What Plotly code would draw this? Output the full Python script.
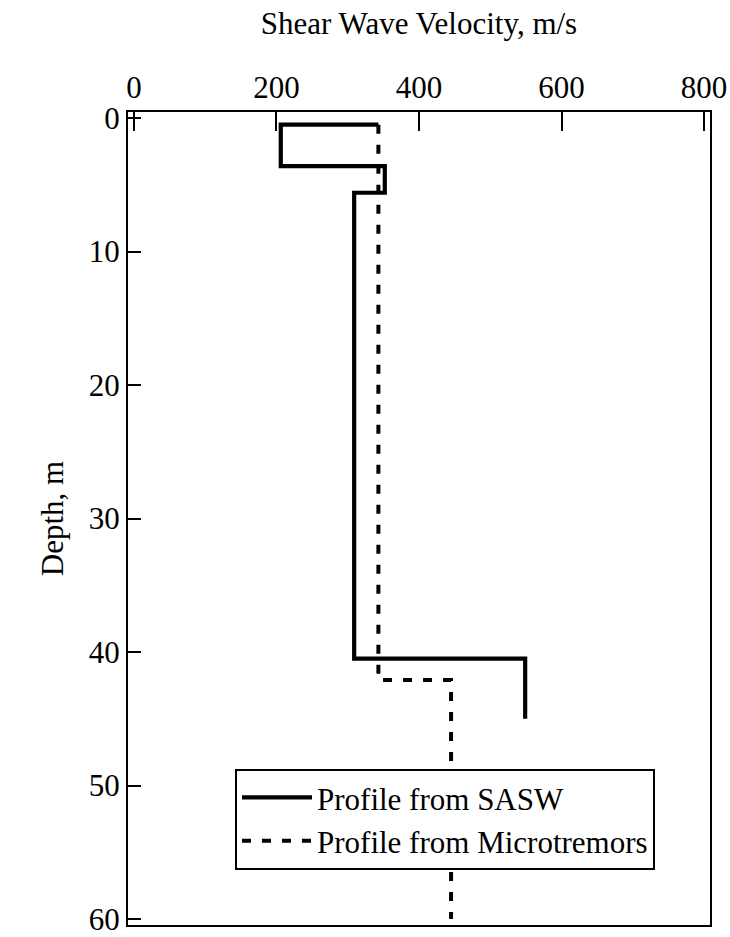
import plotly.graph_objects as go

# SASW profile (step profile: velocity m/s vs depth m)
sasw_velocity = [343, 206, 206, 352, 352, 309, 309, 549, 549]
sasw_depth = [0.5, 0.5, 3.6, 3.6, 5.6, 5.6, 40.5, 40.5, 45.0]

# Microtremor profile
micro_velocity = [343, 343, 445, 445]
micro_depth = [0.5, 42.1, 42.1, 60.0]

x_ticks = [0, 200, 400, 600, 800]
y_ticks = [0, 10, 20, 30, 40, 50, 60]

FONT = "Liberation Serif, Times New Roman, serif"
FS = 31

fig = go.Figure()
fig.add_trace(go.Scatter(
    x=sasw_velocity, y=sasw_depth, mode="lines",
    name="Profile from SASW",
    line=dict(color="black", width=4.2),
))
fig.add_trace(go.Scatter(
    x=micro_velocity, y=micro_depth, mode="lines",
    name="Profile from Microtremors",
    line=dict(color="black", width=4, dash="9px,11px"),
))

fig.update_layout(
    width=730, height=937,
    margin=dict(l=128, r=20, t=112, b=12, autoexpand=False),
    paper_bgcolor="white", plot_bgcolor="white",
    font=dict(family=FONT, size=FS, color="black"),
    showlegend=True,
    legend=dict(
        x=0.9055, xanchor="right", y=0.13, yanchor="middle",
        bgcolor="white", bordercolor="black", borderwidth=2,
        font=dict(family=FONT, size=FS, color="black"),
        tracegroupgap=0, itemwidth=70,
    ),
    xaxis=dict(
        side="top", range=[-8.4, 808.4], automargin=False,
        tickvals=x_ticks, ticktext=[str(v) for v in x_ticks],
        ticks="inside", ticklen=19, tickwidth=2, tickcolor="black",
        showline=True, linewidth=2, linecolor="black", mirror=True,
        showgrid=False, zeroline=False, ticklabeloverflow="allow",
        title=dict(text="Shear Wave Velocity, m/s", standoff=26,
                   font=dict(family=FONT, size=FS)),
        tickfont=dict(family=FONT, size=FS),
    ),
    yaxis=dict(
        range=[60.45, -0.45], automargin=False,
        tickvals=y_ticks, ticktext=[str(v) for v in y_ticks],
        ticks="inside", ticklen=13, tickwidth=2, tickcolor="black",
        showline=True, linewidth=2, linecolor="black", mirror=True,
        showgrid=False, zeroline=False, ticklabeloverflow="allow",
        title=dict(text="Depth, m", standoff=16,
                   font=dict(family=FONT, size=FS)),
        tickfont=dict(family=FONT, size=FS),
    ),
)

fig.write_html("out.html")
